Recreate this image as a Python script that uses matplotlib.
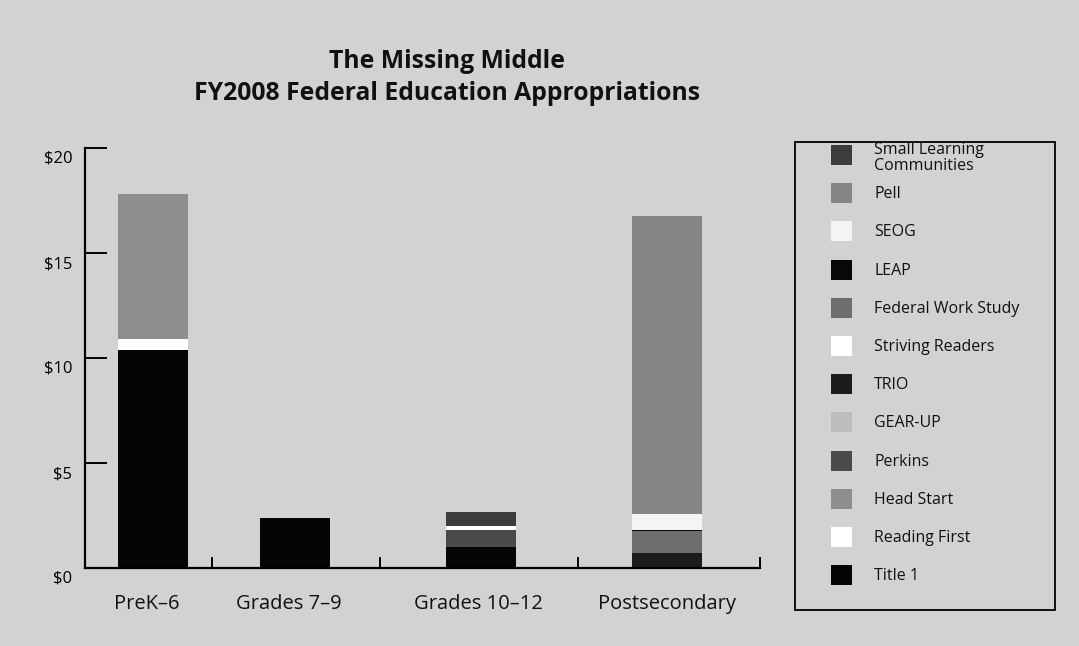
import matplotlib
matplotlib.use("Agg")
import matplotlib.pyplot as plt
from matplotlib.patches import Rectangle
from matplotlib.transforms import ScaledTranslation

plt.rcParams['font.family'] = ['Open Sans', 'DejaVu Sans']

# ---------------- data ----------------
categories = ["PreK\u20136", "Grades 7\u20139", "Grades 10\u201312", "Postsecondary"]

series_names = ["Title 1", "Reading First", "Head Start", "Perkins", "GEAR-UP", "TRIO",
                "Striving Readers", "Federal Work Study", "LEAP", "SEOG", "Pell",
                "Small Learning\nCommunities"]

title1 = [10.4, 2.4, 1.0, 0.0]
reading_first = [0.5, 0.0, 0.0, 0.0]
head_start = [6.9, 0.0, 0.0, 0.0]
perkins = [0.0, 0.0, 0.8, 0.0]
gear_up = [0.0, 0.0, 0.0, 0.0]
trio = [0.0, 0.0, 0.0, 0.7]
striving_readers = [0.0, 0.0, 0.2, 0.0]
federal_work_study = [0.0, 0.0, 0.0, 1.05]
leap = [0.0, 0.0, 0.0, 0.05]
seog = [0.0, 0.0, 0.0, 0.75]
pell = [0.0, 0.0, 0.0, 14.2]
small_learning = [0.0, 0.0, 0.65, 0.0]

y_ticks = [0, 5, 10, 15, 20]
y_tick_labels = ["$0", "$5", "$10", "$15", "$20"]

# ---------------- styling / layout ----------------
series_values = [title1, reading_first, head_start, perkins, gear_up, trio,
                 striving_readers, federal_work_study, leap, seog, pell, small_learning]
series_colors = ["#050505", "#ffffff", "#8e8e8e", "#4a4a4a", "#bdbdbd", "#1c1c1c",
                 "#ffffff", "#6e6e6e", "#080808", "#f4f4f4", "#858585", "#3c3c3c"]

BG = "#d2d2d2"
W, H = 1079, 646
fig = plt.figure(figsize=(W / 100, H / 100), dpi=100, facecolor=BG)

ax_left, ax_right, ax_bottom, ax_top = 85, 760, 568, 148
ax = fig.add_axes([ax_left / W, 1 - ax_bottom / H, (ax_right - ax_left) / W,
                   (ax_bottom - ax_top) / H])
ax.set_facecolor(BG)

span = ax_right - ax_left
group_edges = [0, 127, 295, 493, 675]
bar_centers = [68, 210, 396, 582]
bar_width = 70

bottoms = [0.0] * len(categories)
for name, vals, col in zip(series_names, series_values, series_colors):
    ax.bar(bar_centers, vals, width=bar_width, bottom=bottoms, color=col,
           edgecolor='none', linewidth=0, label=name)
    bottoms = [b + v for b, v in zip(bottoms, vals)]

ax.set_xlim(0, span)
ax.set_ylim(0, 20)

for s in ['top', 'right']:
    ax.spines[s].set_visible(False)
for s in ['left', 'bottom']:
    ax.spines[s].set_linewidth(1.6)
    ax.spines[s].set_color('black')

ax.set_yticks(y_ticks)
ax.set_yticklabels(y_tick_labels, fontsize=12)
ax.tick_params(axis='y', direction='in', length=16, width=1.4, pad=9, colors='black')
for lab in ax.get_yticklabels():
    lab.set_transform(lab.get_transform() + ScaledTranslation(0, -9 / 100, fig.dpi_scale_trans))

ax.set_xticks(group_edges[1:])
ax.set_xticklabels([])
ax.tick_params(axis='x', which='major', direction='in', length=8, width=1.4)
label_centers = [62, 204, 393, 582]
ax.set_xticks(label_centers, minor=True)
ax.set_xticklabels(categories, minor=True, fontsize=14.5, color='#111111')
ax.tick_params(axis='x', which='minor', length=0, pad=19)

fig.text(447 / W, 1 - 61 / H, "The Missing Middle", ha='center', va='center',
         fontsize=17.8, fontweight='bold', color='#111111')
fig.text(447 / W, 1 - 93 / H, "FY2008 Federal Education Appropriations", ha='center',
         va='center', fontsize=17.8, fontweight='bold', color='#111111')

# legend box (drawn in figure pixels)
def fx(px):
    return px / W

def fy(py):
    return 1 - py / H

fig.patches.append(Rectangle((fx(795), fy(610)), fx(1055) - fx(795), fy(142) - fy(610),
                             transform=fig.transFigure, facecolor='none',
                             edgecolor='black', linewidth=1.3))
row0, row_step = 155, 38.2
legend_order = list(range(len(series_names)))[::-1]
for i, idx in enumerate(legend_order):
    cy = row0 + i * row_step
    fig.patches.append(Rectangle((fx(831), fy(cy + 10)), fx(852) - fx(831), fy(cy - 10) - fy(cy + 10),
                                 transform=fig.transFigure, facecolor=series_colors[idx],
                                 edgecolor='none'))
    two_line = "\n" in series_names[idx]
    fig.text(fx(874), fy(cy + (3 if two_line else 1)), series_names[idx], ha='left',
             va='center', fontsize=11.5, color='#111111', linespacing=0.92)

fig.savefig("out.png", dpi=100, facecolor=BG)
